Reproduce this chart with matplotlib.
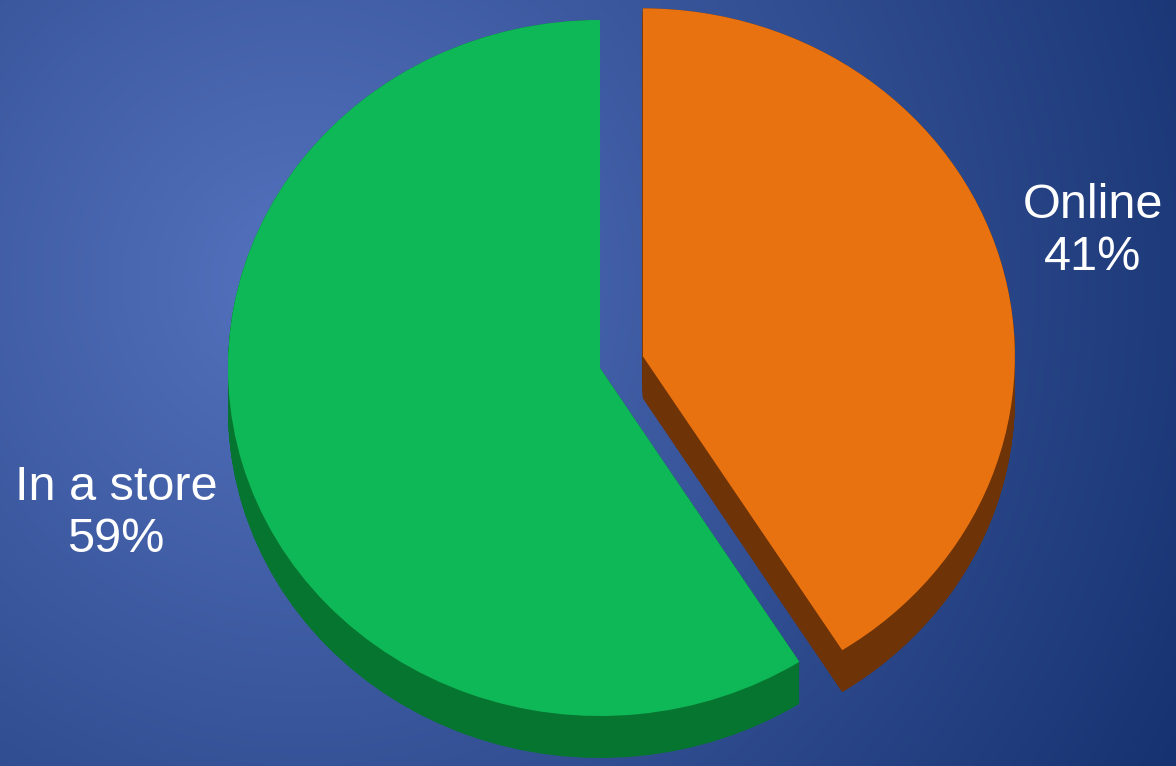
import numpy as np
import matplotlib.pyplot as plt

# data
labels = ['Online', 'In a store']
values = [41, 59]
top_colors = ['#e8720f', '#0fb857']
rim_colors = ['#6e3306', '#067530']
explode = [0.12, 0]

W, H = 1176, 766
fig = plt.figure(figsize=(W / 100, H / 100), dpi=100)

# background gradient (light blue at left-center -> navy at right)
bg = fig.add_axes([0, 0, 1, 1])
yy, xx = np.mgrid[0:H, 0:W]
d = np.sqrt((xx - 300) ** 2 + (yy - 280) ** 2) / 1000.0
d = np.clip(d, 0, 1)[..., None]
inner = np.array([84, 114, 190]) / 255.0
outer = np.array([22, 50, 112]) / 255.0
img = inner * (1 - d) + outer * d
bg.imshow(img, extent=[0, W, H, 0], aspect='auto')
bg.axis('off')

ax = fig.add_axes([0, 0, 1, 1])
ax.patch.set_alpha(0)

# side of the disc: stack darker copies shifted down
ry = 348.0
thick = 42 / ry
for dy in np.linspace(thick, 0, 60):
    ax.pie(values, colors=rim_colors, startangle=90, counterclock=False,
           explode=explode, center=(0, -dy), radius=1,
           wedgeprops=dict(linewidth=0))

# top face
ax.pie(values, colors=top_colors, startangle=90, counterclock=False,
       explode=explode, center=(0, 0), radius=1,
       wedgeprops=dict(linewidth=0))

ax.set_aspect('auto')
ax.set_xlim(-600 / 372, 576 / 372)
ax.set_ylim(-(H - 368) / ry, 368 / ry)
ax.axis('off')

fig.text(1093 / W, 1 - 231 / H, '%s\n%d%%' % (labels[0], values[0]),
         color='white', fontsize=35, family='Liberation Sans',
         ha='center', va='center')
fig.text(116 / W, 1 - 514 / H, '%s\n%d%%' % (labels[1], values[1]),
         color='white', fontsize=35, family='Liberation Sans',
         ha='center', va='center')

fig.savefig('out.png', dpi=100)
